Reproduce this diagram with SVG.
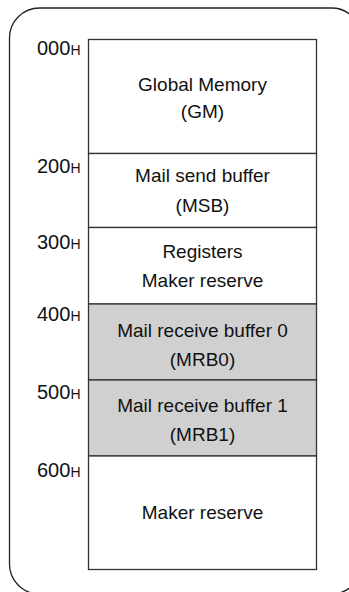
<svg xmlns="http://www.w3.org/2000/svg" width="349" height="592" viewBox="0 0 349 592">
  <style>
    .frame { fill: #ffffff; stroke: #222222; stroke-width: 1.3; }
    .blk { stroke: #333333; stroke-width: 1.3; }
    .white { fill: #ffffff; }
    .gray { fill: #d0d0d0; }
    text { font-family: "Liberation Sans", Arial, Helvetica, sans-serif; fill: #111111; }
    .t { font-size: 19px; text-anchor: middle; }
    .addr { font-size: 20px; text-anchor: end; }
    .sub { font-size: 14px; }
  </style>

  <!-- outer rounded frame -->
  <rect class="frame" x="9.5" y="8" width="352" height="586" rx="30" ry="30"/>

  <!-- memory map blocks -->
  <g id="gm">
    <rect class="blk white" x="88.5" y="39.5" width="228" height="114"/>
    <text class="t" x="202.5" y="90.5">Global Memory</text>
    <text class="t" x="202.5" y="118">(GM)</text>
  </g>
  <g id="msb">
    <rect class="blk white" x="88.5" y="153.5" width="228" height="74"/>
    <text class="t" x="202.5" y="182">Mail send buffer</text>
    <text class="t" x="202.5" y="211.5">(MSB)</text>
  </g>
  <g id="registers">
    <rect class="blk white" x="88.5" y="227.5" width="228" height="76.5"/>
    <text class="t" x="202.5" y="257.5">Registers</text>
    <text class="t" x="202.5" y="287">Maker reserve</text>
  </g>
  <g id="mrb0">
    <rect class="blk gray" x="88.5" y="304" width="228" height="76"/>
    <text class="t" x="202.5" y="337">Mail receive buffer 0</text>
    <text class="t" x="202.5" y="366">(MRB0)</text>
  </g>
  <g id="mrb1">
    <rect class="blk gray" x="88.5" y="380" width="228" height="76"/>
    <text class="t" x="202.5" y="412">Mail receive buffer 1</text>
    <text class="t" x="202.5" y="441">(MRB1)</text>
  </g>
  <g id="maker">
    <rect class="blk white" x="88.5" y="456" width="228" height="113.5"/>
    <text class="t" x="202.5" y="519">Maker reserve</text>
  </g>

  <!-- address labels -->
  <g id="addresses">
    <text class="addr" x="80.5" y="54.5">000<tspan class="sub">H</tspan></text>
    <text class="addr" x="80.5" y="172.5">200<tspan class="sub">H</tspan></text>
    <text class="addr" x="80.5" y="248.5">300<tspan class="sub">H</tspan></text>
    <text class="addr" x="80.5" y="320.5">400<tspan class="sub">H</tspan></text>
    <text class="addr" x="80.5" y="398.5">500<tspan class="sub">H</tspan></text>
    <text class="addr" x="80.5" y="476.5">600<tspan class="sub">H</tspan></text>
  </g>
</svg>
